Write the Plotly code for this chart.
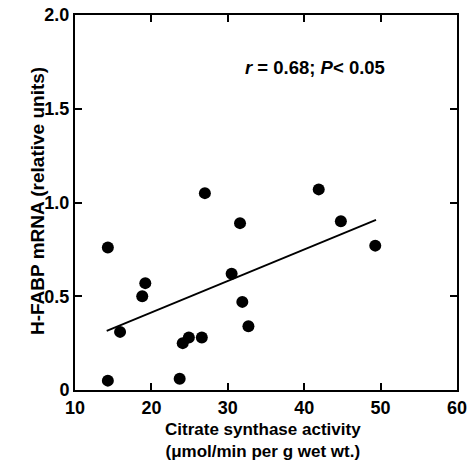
import plotly.graph_objects as go

# citrate synthase activity vs H-FABP mRNA
cs_activity = [14.3, 14.3, 15.9, 18.8, 19.2, 23.7, 24.1, 24.9, 26.6, 27.0,
               30.5, 31.6, 31.9, 32.7, 41.9, 44.8, 49.3]
fabp_mrna = [0.76, 0.05, 0.31, 0.50, 0.57, 0.06, 0.25, 0.28, 0.28, 1.05,
             0.62, 0.89, 0.47, 0.34, 1.07, 0.90, 0.77]

# regression line end points
fit_x = [14.15, 49.4]
fit_y = [0.315, 0.907]

x_ticks = [10, 20, 30, 40, 50, 60]
y_ticks = [0, 0.5, 1.0, 1.5, 2.0]
y_tick_text = ['0', '0.5', '1.0', '1.5', '2.0']

x_title = 'Citrate synthase activity<br>(\u03bcmol/min per g wet wt.)'
y_title = 'H-FABP mRNA (relative units)'
stat_text = '<i>r</i> = 0.68; <i>P</i>< 0.05'

FONT = 'Liberation Sans, Arial, sans-serif'

fig = go.Figure()
fig.add_trace(go.Scatter(
    x=fit_x, y=fit_y, mode='lines',
    line=dict(color='black', width=1.8),
    showlegend=False, hoverinfo='skip'
))
fig.add_trace(go.Scatter(
    x=cs_activity, y=fabp_mrna, mode='markers',
    marker=dict(color='black', size=12),
    showlegend=False
))

axis_common = dict(
    showline=True, linecolor='black', linewidth=2, mirror='ticks',
    ticks='inside', ticklen=7, tickwidth=2, tickcolor='black',
    showgrid=False, zeroline=False, automargin=False,
    tickfont=dict(family=FONT, size=18, color='black', weight='bold'),
)

fig.update_xaxes(range=[10, 60], tickvals=x_ticks, **axis_common)
fig.update_yaxes(range=[0, 2.0], tickvals=y_ticks, ticktext=y_tick_text,
                 **axis_common)

# axis titles as annotations so they sit where the original has them
fig.add_annotation(
    x=0.493, y=-0.1347, xref='paper', yref='paper',
    xanchor='center', yanchor='middle',
    text=x_title, showarrow=False,
    font=dict(family=FONT, size=17, color='black', weight='bold')
)
fig.add_annotation(
    x=-0.0995, y=0.504, xref='paper', yref='paper',
    xanchor='center', yanchor='middle',
    text=y_title, textangle=-90, showarrow=False,
    font=dict(family=FONT, size=19, color='black', weight='bold')
)
fig.add_annotation(
    x=0.628, y=0.859, xref='paper', yref='paper',
    xanchor='center', yanchor='middle',
    text=stat_text, showarrow=False,
    font=dict(family=FONT, size=18.5, color='black', weight='bold')
)

fig.update_layout(
    width=470, height=461,
    margin=dict(l=75, r=13, t=15, b=71),
    plot_bgcolor='white', paper_bgcolor='white',
)

fig.write_html("out.html", config={'displayModeBar': False},
               post_script="document.body.style.margin='0';")
